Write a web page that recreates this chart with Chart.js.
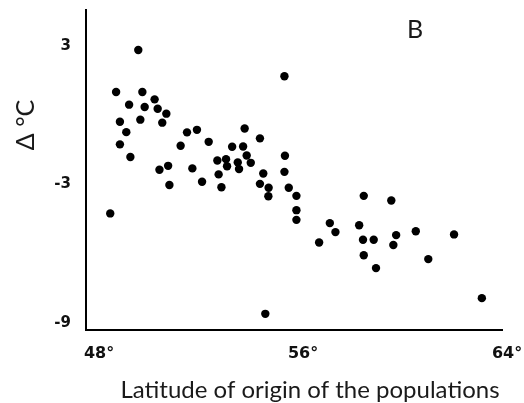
<!DOCTYPE html>
<html>
<head>
<meta charset="utf-8">
<script src="https://cdn.jsdelivr.net/npm/chart.js@4/dist/chart.umd.min.js"></script>
<style>
  html, body { margin: 0; padding: 0; background: #fff; }
  #c { display: block; }
</style>
</head>
<body>
<canvas id="c" width="524" height="403"></canvas>
<script>
// Latitude of origin (degrees N) of each population
const latitude = [
  49.54, 55.27, 48.67, 49.70, 50.18, 49.18, 49.79, 50.30, 50.64, 48.82,
  49.62, 50.48, 49.07, 48.82, 49.23, 51.45, 51.84, 53.71, 54.31, 51.20,
  52.30, 53.22, 53.65, 50.37, 50.71, 50.76, 51.66, 52.04, 52.64, 52.98,
  53.02, 52.69, 52.80, 53.44, 53.49, 53.79, 53.95, 54.44, 54.31, 54.65,
  54.64, 55.29, 55.27, 55.44, 55.74, 55.74, 55.74, 48.44, 56.63, 57.05,
  57.27, 58.20, 58.38, 58.35, 58.77, 58.38, 58.86, 59.46, 59.65, 59.54,
  60.42, 60.91, 61.92, 63.01, 54.52
];
// Temperature difference (°C) for each population, same order
const deltaC = [
   2.83,  1.69,  1.01,  1.01,  0.69,  0.46,  0.36,  0.28,  0.07, -0.28,
  -0.19, -0.32, -0.73, -1.26, -1.81, -0.74, -0.63, -0.57, -1.00, -1.32,
  -1.15, -1.36, -1.35, -2.36, -2.19, -3.02, -2.30, -2.88, -1.96, -1.90,
  -2.21, -2.56, -3.12, -2.04, -2.33, -1.74, -2.06, -2.52, -2.97, -3.14,
  -3.51, -1.75, -2.45, -3.14, -3.49, -4.11, -4.53, -4.25, -5.51, -4.67,
  -5.06, -4.76, -3.49, -5.39, -5.39, -6.06, -6.62, -3.69, -5.19, -5.62,
  -5.02, -6.23, -5.16, -7.92, -8.60
];
// Axis tick values
const xTicks = [48, 56, 64];
const yTicks = [-9, -3, 3];

const xTitle = 'Latitude of origin of the populations';
const yTitle = 'Δ °C';
const panelLabel = 'B';

const points = latitude.map((x, i) => ({ x: x, y: deltaC[i] }));

const tickFamily = "'DejaVu Sans', sans-serif";

// Axis titles and panel letter
const labelsPlugin = {
  id: 'labels',
  afterDraw(chart) {
    const ctx = chart.ctx;
    ctx.save();
    ctx.fillStyle = '#1a1a1a';
    ctx.textBaseline = 'alphabetic';

    ctx.font = "24px Lato, 'Open Sans', sans-serif";
    ctx.textAlign = 'center';
    ctx.fillText(xTitle, 310, 398);

    ctx.save();
    ctx.translate(34, 125);
    ctx.rotate(-Math.PI / 2);
    ctx.font = "25px Lato, 'Open Sans', sans-serif";
    ctx.textAlign = 'center';
    ctx.fillText(yTitle, 0, 0);
    ctx.restore();

    ctx.font = "25px Lato, 'Open Sans', sans-serif";
    ctx.textAlign = 'left';
    ctx.fillText(panelLabel, 407, 38);
    ctx.restore();
  }
};

new Chart(document.getElementById('c'), {
  type: 'scatter',
  data: {
    datasets: [{
      data: points,
      backgroundColor: '#000',
      borderWidth: 0,
      pointRadius: 4.2,
      pointHoverRadius: 4.2
    }]
  },
  options: {
    responsive: false,
    animation: false,
    devicePixelRatio: 1,
    layout: { padding: { left: 0, top: 10, right: 22, bottom: 0 } },
    plugins: {
      legend: { display: false },
      tooltip: { enabled: false }
    },
    scales: {
      x: {
        type: 'linear',
        min: 47.49,
        max: 63.8,
        afterBuildTicks: s => { s.ticks = xTicks.map(v => ({ value: v })); },
        afterFit: s => { s.height = 73; s.paddingLeft = 0; s.paddingRight = 0; },
        grid: { display: false, drawTicks: false },
        border: { display: true, color: '#000', width: 2 },
        ticks: {
          padding: 14,
          maxRotation: 0,
          autoSkip: false,
          color: '#111',
          font: { family: tickFamily, size: 16, weight: 'bold' },
          callback: v => v + '°'
        }
      },
      y: {
        type: 'linear',
        min: -9.3,
        max: 4.56,
        afterBuildTicks: s => { s.ticks = yTicks.map(v => ({ value: v })); },
        afterFit: s => { s.width = 86; s.paddingTop = 0; s.paddingBottom = 0; },
        grid: { display: false, drawTicks: false },
        border: { display: true, color: '#000', width: 2 },
        ticks: {
          padding: 15,
          autoSkip: false,
          color: '#111',
          font: { family: tickFamily, size: 15, weight: 'bold' }
        }
      }
    }
  },
  plugins: [labelsPlugin]
});
</script>
</body>
</html>
